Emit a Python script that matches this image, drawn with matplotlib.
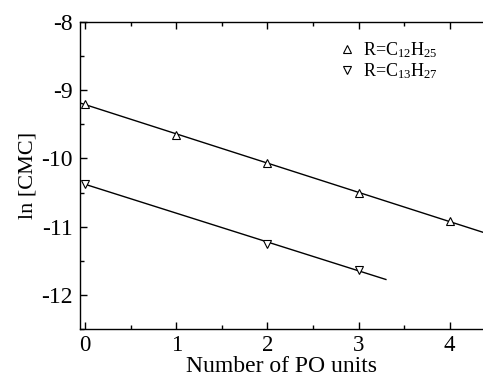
import numpy as np
import matplotlib
matplotlib.use('Agg')
import matplotlib.pyplot as plt
from matplotlib.lines import Line2D

# --- Data ---
po_c12 = [0, 1, 2, 3, 4]
ln_cmc_c12 = [-9.20, -9.65, -10.07, -10.50, -10.92]

po_c13 = [0, 2, 3]
ln_cmc_c13 = [-10.37, -11.25, -11.63]

fit_range_c12 = [-0.06, 4.5]
fit_range_c13 = [0.0, 3.3]

plt.rcParams['font.family'] = 'Liberation Serif'
plt.rcParams['mathtext.fontset'] = 'custom'
plt.rcParams['mathtext.rm'] = 'Liberation Serif'
plt.rcParams['mathtext.it'] = 'Liberation Serif'

fig = plt.figure(figsize=(4.83, 3.78), dpi=100, facecolor='white')
ax = fig.add_axes([0.1656, 0.1296, 0.8354, 0.8122])

# fitted lines
for xs, ys, rng in [(po_c12, ln_cmc_c12, fit_range_c12),
                    (po_c13, ln_cmc_c13, fit_range_c13)]:
    k, b = np.polyfit(xs, ys, 1)
    xr = np.array(rng)
    ax.plot(xr, k * xr + b, color='black', linewidth=1.0, clip_on=True)

mk = dict(linestyle='none', markersize=5.5, markerfacecolor='white',
          markeredgecolor='black', markeredgewidth=0.8)
ax.plot(po_c12, ln_cmc_c12, marker='^', clip_on=False, zorder=3, **mk)
ax.plot(po_c13, ln_cmc_c13, marker='v', clip_on=False, zorder=3, **mk)

ax.set_xlim(-0.055, 4.37)
ax.set_ylim(-12.5, -8)
ax.set_xticks([0, 1, 2, 3, 4])
ax.set_xticks(np.arange(0.5, 4.4, 1.0), minor=True)
ax.set_yticks([-12, -11, -10, -9, -8])
ax.set_yticks(np.arange(-12.5, -8, 1.0), minor=True)
ax.set_yticklabels(['-12', '-11', '-10', '-9', '-8'])

ax.tick_params(which='both', direction='in', top=True, right=False, width=1.0)
ax.tick_params(axis='y', labelsize=17, pad=5)
ax.tick_params(axis='x', labelsize=16.5, pad=4.5)
ax.tick_params(which='major', length=5)
ax.tick_params(which='minor', length=3)
ax.spines['right'].set_visible(False)
for s in ['left', 'bottom', 'top']:
    ax.spines[s].set_linewidth(1.0)

ax.set_xlabel('Number of PO units', fontsize=17, labelpad=0)
ax.set_ylabel('ln [CMC]', fontsize=16, labelpad=3)

handles = [Line2D([0], [0], marker='^', **mk), Line2D([0], [0], marker='v', **mk)]
ax.legend(handles, [r'R=C$_{12}$H$_{25}$', r'R=C$_{13}$H$_{27}$'],
          loc='upper left', bbox_to_anchor=(0.639, 0.94), frameon=False,
          borderpad=0, borderaxespad=0,
          fontsize=13, handlelength=1.0, handletextpad=0.4, labelspacing=0.05)

fig.savefig('out.png', dpi=100, facecolor='white')
